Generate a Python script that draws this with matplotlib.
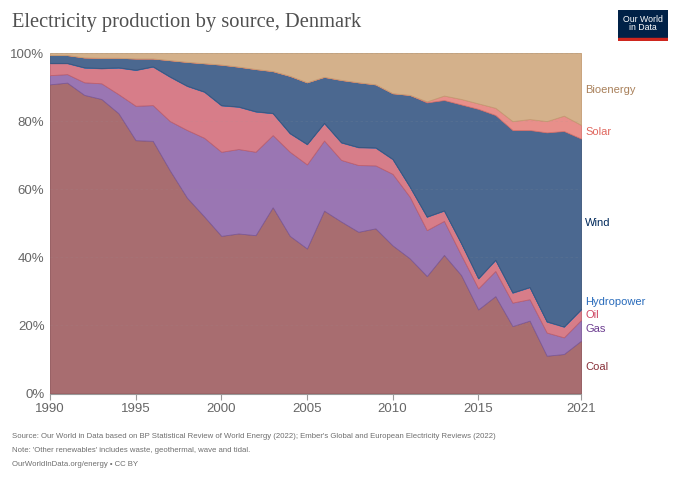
import matplotlib
matplotlib.use("Agg")
import matplotlib.pyplot as plt
from matplotlib.patches import Rectangle

years = list(range(1990, 2022))

# shares of electricity production (%)
coal = [90.8, 91.3, 87.7, 86.5, 82.3, 74.4, 74.2, 65.5, 57.5, 52.0,
        46.3, 47.0, 46.5, 54.7, 46.3, 42.6, 53.7, 50.5, 47.5, 48.5,
        43.5, 39.7, 34.5, 40.7, 34.8, 24.7, 28.6, 19.8, 21.4, 11.1,
        11.6, 15.5]
gas = [2.7, 2.5, 3.7, 4.6, 5.6, 10.1, 10.5, 14.5, 19.9, 23.1,
       24.7, 24.8, 24.5, 21.2, 24.7, 24.7, 20.6, 18.1, 19.6, 18.5,
       21.0, 18.1, 13.5, 10.0, 5.9, 6.2, 7.4, 6.9, 6.3, 6.8,
       4.9, 6.1]
oil = [3.5, 3.2, 4.3, 4.4, 7.8, 10.5, 11.3, 13.0, 12.9, 13.5,
       13.6, 12.4, 11.8, 6.4, 5.4, 5.9, 5.1, 5.1, 5.2, 5.2,
       4.3, 2.9, 3.9, 3.0, 3.4, 2.9, 3.2, 2.9, 3.5, 3.2,
       3.1, 3.1]
hydro = [0.1, 0.1, 0.1, 0.1, 0.1, 0.1, 0.1, 0.1, 0.1, 0.1,
         0.1, 0.1, 0.1, 0.1, 0.1, 0.1, 0.1, 0.1, 0.1, 0.1,
         0.1, 0.1, 0.1, 0.1, 0.1, 0.1, 0.1, 0.1, 0.1, 0.1,
         0.1, 0.1]
wind = [2.3, 2.3, 2.9, 3.0, 2.8, 3.3, 2.3, 4.8, 7.0, 8.3,
        11.9, 11.7, 12.4, 12.3, 16.8, 18.1, 13.5, 18.3, 19.0, 18.5,
        19.3, 26.9, 33.5, 32.4, 40.7, 49.7, 42.5, 47.7, 46.1, 55.5,
        57.4, 50.1]
solar = [0, 0, 0, 0, 0, 0, 0, 0, 0, 0,
         0, 0, 0, 0, 0, 0, 0, 0, 0, 0,
         0, 0, 0.3, 1.3, 1.6, 1.6, 2.1, 2.6, 3.2, 3.3,
         4.5, 4.0]
bioenergy = [0.6, 0.6, 1.3, 1.4, 1.4, 1.6, 1.6, 2.1, 2.6, 3.0,
             3.4, 4.0, 4.7, 5.3, 6.7, 8.6, 7.0, 7.9, 8.6, 9.2,
             11.8, 12.3, 14.2, 12.5, 13.5, 14.8, 16.1, 20.0, 19.4, 20.0,
             18.4, 21.1]

names = ["Coal", "Gas", "Oil", "Hydropower", "Wind", "Solar", "Bioenergy"]
series = [coal, gas, oil, hydro, wind, solar, bioenergy]
fills = ["#a86d70", "#9a76b3", "#d77d89", "#5b86c4", "#4b6890", "#e88f8a", "#d4b18b"]
edges = ["#8e5257", "#7d5a99", "#c0606e", "#3f6faf", "#3a5479", "#d9726c", "#c49c72"]
label_colors = ["#883039", "#6d3e91", "#cf4763", "#286bbb", "#00295b", "#e0675e", "#a9805a"]
label_y = [7.9, 19.0, 23.0, 26.8, 50.2, 76.7, 89.1]

fig = plt.figure(figsize=(6.8, 4.8), dpi=100)
ax = fig.add_axes([50 / 680, 1 - 393.5 / 480, 531 / 680, 340.5 / 480])

polys = ax.stackplot(years, *series, colors=fills)
for p, ec in zip(polys, edges):
    p.set_edgecolor(ec)
    p.set_linewidth(0.6)

ax.set_xlim(1990, 2021)
ax.set_ylim(0, 100)
ax.set_yticks([0, 20, 40, 60, 80, 100])
ax.set_yticklabels(["0%", "20%", "40%", "60%", "80%", "100%"])
ax.set_xticks([1990, 1995, 2000, 2005, 2010, 2015, 2021])
for y in [20, 40, 60, 80]:
    ax.axhline(y, color="#999999", lw=0.6, ls=(0, (3, 3)), alpha=0.15, zorder=5)
ax.axhline(100, color="#b0a08a", lw=0.6, ls=(0, (3, 3)), alpha=0.6, zorder=5)

for s in ["top", "right", "left"]:
    ax.spines[s].set_visible(False)
ax.spines["bottom"].set_color("#999999")
ax.tick_params(axis="y", length=0, pad=4, labelsize=9.5, labelcolor="#666666")
ax.tick_params(axis="x", length=4, color="#999999", pad=3, labelsize=9.5, labelcolor="#666666")
for lab in ax.get_xticklabels() + ax.get_yticklabels():
    lab.set_fontfamily("Liberation Sans")

for name, yv, c in zip(names, label_y, label_colors):
    ax.text(2021.25, yv, name, color=c, fontsize=8, va="center", ha="left",
            family="Liberation Sans", clip_on=False)

fig.text(12 / 680, 1 - 22 / 480, "Electricity production by source, Denmark",
         family="Liberation Serif", fontsize=14.8, color="#505050", va="center")

# logo
logo = fig.add_axes([618 / 680, 1 - 41 / 480, 50 / 680, 31 / 480])
logo.set_xlim(0, 1)
logo.set_ylim(0, 1)
logo.axis("off")
logo.add_patch(Rectangle((0, 0.1), 1, 0.9, color="#002147"))
logo.add_patch(Rectangle((0, 0), 1, 0.1, color="#ce261e"))
logo.text(0.5, 0.56, "Our World\nin Data", color="white", ha="center", va="center",
          fontsize=6.3, family="Liberation Sans", linespacing=0.95)

foot = ["Source: Our World in Data based on BP Statistical Review of World Energy (2022); "
        "Ember's Global and European Electricity Reviews (2022)",
        "Note: 'Other renewables' includes waste, geothermal, wave and tidal.",
        "OurWorldInData.org/energy \u2022 CC BY"]
for i, t in enumerate(foot):
    fig.text(12 / 680, 1 - (437 + 13.5 * i) / 480, t, fontsize=5.6,
             family="Liberation Sans", color="#6e6e6e", va="center")

fig.savefig("out.png", dpi=100)
